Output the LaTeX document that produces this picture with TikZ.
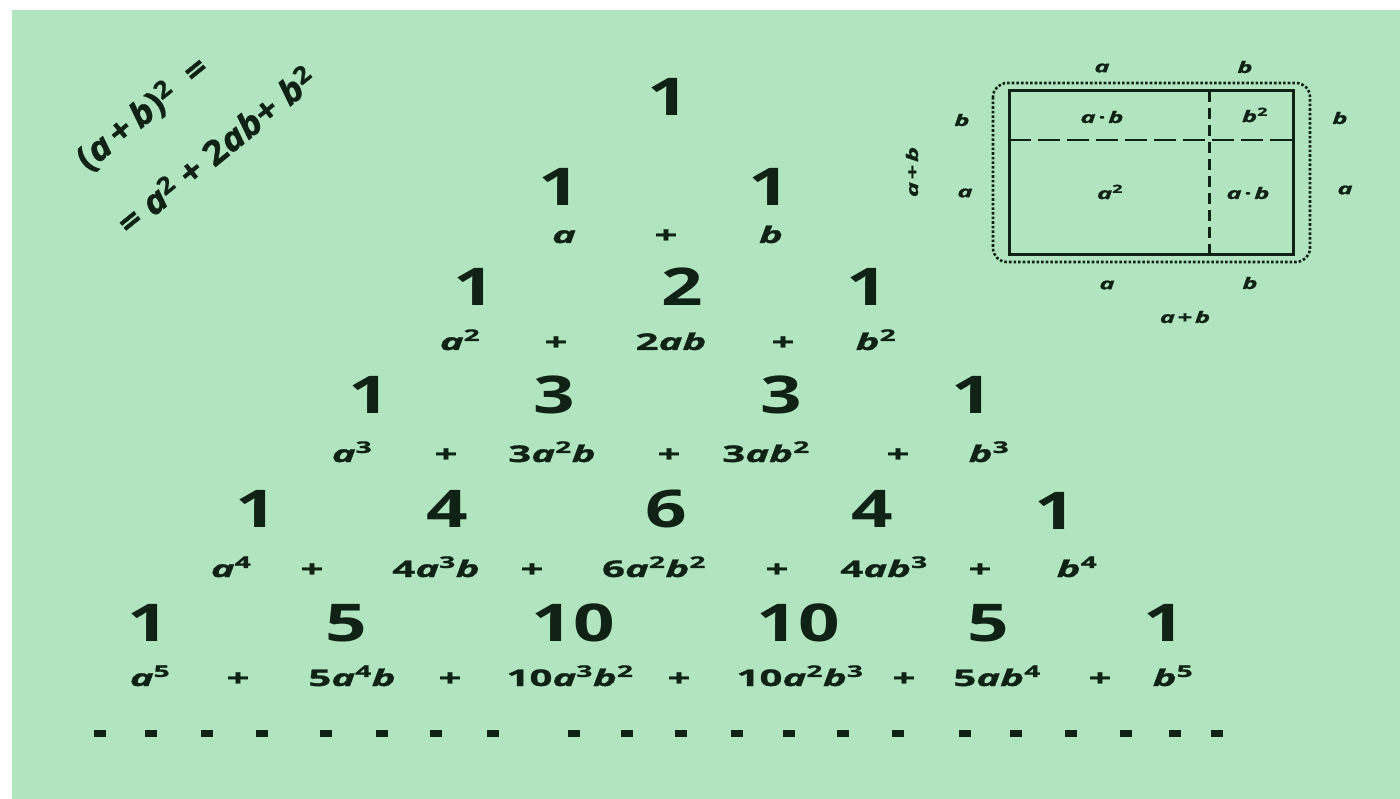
\documentclass[tikz,border=0pt]{standalone}
\usepackage{fontspec}
\setmainfont{Open Sans}
\newfontfamily\digitfont[FakeStretch=1.4]{Open Sans}
\newfontfamily\termfont[FakeStretch=1.75,FakeBold=1.2]{Open Sans}
\newfontfamily\lblfont[FakeStretch=1.6,FakeBold=1]{Open Sans}
\newfontfamily\formfont[FakeStretch=1.1,FakeBold=1]{Open Sans}
\definecolor{bg}{RGB}{177,229,192}
\definecolor{ink}{RGB}{16,34,22}
\newcommand\vA{\textit{a}}
\newcommand\vB{\textit{b}}
\newcommand\sq[1]{\textsuperscript{#1}}
\begin{document}
\begin{tikzpicture}[x=1pt,y=-1pt,
  digit/.style={font=\digitfont\fontsize{52}{60}\selectfont\bfseries, text=ink, inner sep=0pt},
  term/.style={font=\termfont\fontsize{23}{26}\selectfont\bfseries, text=ink, inner sep=0pt, anchor=base},
  formula/.style={font=\formfont\fontsize{34}{38}\selectfont\bfseries, text=ink, inner sep=0pt, rotate=39},
  lbl/.style={font=\lblfont\fontsize{16}{18}\selectfont\bfseries, text=ink, inner sep=0pt},
  dotmark/.style={fill=ink}]
\useasboundingbox (0,0) rectangle (1400,799);
\fill[white] (0,0) rectangle (1400,799);
\fill[bg] (12,10) rectangle (1400,799);

% rotated formula
\node[formula] (f1) at (143,114) {(\vA\,+\,\vB)\sq{2}\ \ =};
\node[formula] (f2) at (216,150) {= \vA\sq{2} + 2\vA\vB + \vB\sq{2}};

% row 0
\node[digit] (r0a) at (668,97) {1};
% row 1
\node[digit] (r1a) at (559,187) {1};
\node[digit] (r1b) at (769,187) {1};
\node[term] (t1a) at (564,243) {\vA};
\node[term] (t1p) at (666,243) {+};
\node[term] (t1b) at (771,243) {\vB};
% row 2
\node[digit] (r2a) at (474,287) {1};
\node[digit] (r2b) at (682,287) {2};
\node[digit] (r2c) at (867,287) {1};
\node[term] (t2a) at (460,350) {\vA\sq{2}};
\node[term] (t2p) at (556,350) {+};
\node[term] (t2b) at (671,350) {2\vA\vB};
\node[term] (t2q) at (783,350) {+};
\node[term] (t2c) at (876,350) {\vB\sq{2}};
% row 3
\node[digit] (r3a) at (369,395) {1};
\node[digit] (r3b) at (554,395) {3};
\node[digit] (r3c) at (781,395) {3};
\node[digit] (r3d) at (972,395) {1};
\node[term] (t3a) at (352,462) {\vA\sq{3}};
\node[term] (t3p) at (446,462) {+};
\node[term] (t3b) at (552,462) {3\vA\sq{2}\vB};
\node[term] (t3q) at (669,462) {+};
\node[term] (t3c) at (766,462) {3\vA\vB\sq{2}};
\node[term] (t3r) at (898,462) {+};
\node[term] (t3d) at (989,462) {\vB\sq{3}};
% row 4
\node[digit] (r4a) at (256,509) {1};
\node[digit] (r4b) at (447,509) {4};
\node[digit] (r4c) at (666,509) {6};
\node[digit] (r4d) at (872,509) {4};
\node[digit] (r4e) at (1055,511) {1};
\node[term] (t4a) at (231,577) {\vA\sq{4}};
\node[term] (t4p) at (312,577) {+};
\node[term] (t4b) at (436,577) {4\vA\sq{3}\vB};
\node[term] (t4q) at (532,577) {+};
\node[term] (t4c) at (654,577) {6\vA\sq{2}\vB\sq{2}};
\node[term] (t4r) at (777,577) {+};
\node[term] (t4d) at (884,577) {4\vA\vB\sq{3}};
\node[term] (t4s) at (980,577) {+};
\node[term] (t4e) at (1077,577) {\vB\sq{4}};
% row 5
\node[digit] (r5a) at (148,623) {1};
\node[digit] (r5b) at (346,623) {5};
\node[digit] (r5c) at (573,623) {10};
\node[digit] (r5d) at (798,623) {10};
\node[digit] (r5e) at (988,623) {5};
\node[digit] (r5f) at (1164,623) {1};
\node[term] (t5a) at (150,686) {\vA\sq{5}};
\node[term] (t5p) at (238,686) {+};
\node[term] (t5b) at (352,686) {5\vA\sq{4}\vB};
\node[term] (t5q) at (450,686) {+};
\node[term] (t5c) at (570,686) {10\vA\sq{3}\vB\sq{2}};
\node[term] (t5r) at (679,686) {+};
\node[term] (t5d) at (800,686) {10\vA\sq{2}\vB\sq{3}};
\node[term] (t5s) at (904,686) {+};
\node[term] (t5e) at (997,686) {5\vA\vB\sq{4}};
\node[term] (t5t) at (1100,686) {+};
\node[term] (t5f) at (1173,686) {\vB\sq{5}};

% dots
\foreach \x in {100,151,207,262,326,382,436,493,574,627,681,737,789,843,898,965,1016,1071,1126,1175,1217}
  \fill[dotmark] (\x-6,730) rectangle (\x+6,737);

% square diagram
\draw[ink, dotted, line width=2.6pt, rounded corners=14pt] (993,83) rectangle (1310,262);
\draw[ink, line width=3pt] (1009,91) rectangle (1293,255);
\draw[ink, line width=3pt, dash pattern=on 11pt off 6pt] (1209,91) -- (1209,255);
\draw[ink, line width=2.4pt, dash pattern=on 22pt off 7pt] (1009,140) -- (1293,140);
\node[lbl] (sqTa) at (1102,68) {\vA};
\node[lbl] (sqTb) at (1245,67) {\vB};
\node[lbl] (sqC1) at (1102,117) {\vA\,·\,\vB};
\node[lbl] (sqC2) at (1255,115) {\vB\sq{2}};
\node[lbl] (sqC3) at (1110,192) {\vA\sq{2}};
\node[lbl] (sqC4) at (1248,193) {\vA\,·\,\vB};
\node[lbl] (sqLb) at (962,120) {\vB};
\node[lbl] (sqLa) at (965,193) {\vA};
\node[lbl, rotate=90] (sqLs) at (912,172) {\vA\,+\,\vB};
\node[lbl] (sqRb) at (1340,118) {\vB};
\node[lbl] (sqRa) at (1345,190) {\vA};
\node[lbl] (sqBa) at (1107,285) {\vA};
\node[lbl] (sqBb) at (1250,283) {\vB};
\node[lbl] (sqBs) at (1185,317) {\vA\,+\,\vB};
\end{tikzpicture}
\end{document}
